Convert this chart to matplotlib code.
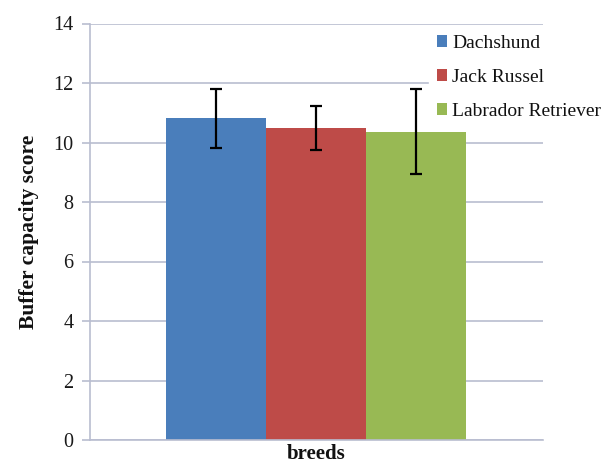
import matplotlib
matplotlib.use("Agg")
import matplotlib.pyplot as plt
import numpy as np

breeds = ["Dachshund", "Jack Russel", "Labrador Retriever"]
scores = [10.82, 10.49, 10.36]
errors = [0.99, 0.73, 1.43]
colors = ["#4a7ebb", "#be4b48", "#98b954"]
yticks = [0, 2, 4, 6, 8, 10, 12, 14]

plt.rcParams['font.family'] = ['Liberation Serif', 'DejaVu Serif']
grid_c = "#b9bdd0"

fig = plt.figure(figsize=(6.1, 4.63), dpi=100)
ax = fig.add_axes([90/610, 23/463, (543-90)/610, (440-23.5)/463])

width = 1.0
x = np.arange(len(breeds)) * width - width
for i, (b, s, e, c) in enumerate(zip(breeds, scores, errors, colors)):
    ax.bar(x[i], s, width=width, color=c, label=b, zorder=2)
    ax.errorbar(x[i], s, yerr=e, fmt='none', ecolor='black', elinewidth=1.6,
                capsize=4, capthick=1.6, zorder=3)

half = 1.5 * width * 453 / 300
ax.set_xlim(-half + 0.01, half + 0.01)
ax.set_ylim(0, 14)
ax.set_yticks(yticks)
ax.set_yticklabels([str(t) for t in yticks], fontsize=14.5)
ax.set_xticks([])
ax.yaxis.grid(True, color=grid_c, linewidth=1.2, zorder=0)
ax.set_axisbelow(True)
for sp in ['top', 'right']:
    ax.spines[sp].set_visible(False)
for sp in ['left', 'bottom']:
    ax.spines[sp].set_color(grid_c)
    ax.spines[sp].set_linewidth(1.2)
ax.tick_params(axis='y', colors=grid_c, labelcolor='#1a1a1a', length=6, width=1.2, pad=6)
ax.set_ylabel("Buffer capacity score", fontsize=15.5, fontweight='bold', labelpad=10,
              color='#111111')
ax.set_xlabel("breeds", fontsize=15, fontweight='bold', labelpad=3, color='#111111')

leg = fig.legend(*ax.get_legend_handles_labels(), loc='upper left',
                 bbox_to_anchor=(429/610, 1 - 27/463), frameon=True,
                 fontsize=14, handlelength=0.55, handleheight=0.55, handletextpad=0.25,
                 labelspacing=0.88, borderpad=0.4, borderaxespad=0)
leg.get_frame().set_edgecolor('white')
leg.get_frame().set_facecolor('white')
leg.get_frame().set_alpha(1)
leg.get_frame().set_boxstyle('square', pad=0)
for t in leg.get_texts():
    t.set_color('#111111')

fig.savefig("out.png", dpi=100)
